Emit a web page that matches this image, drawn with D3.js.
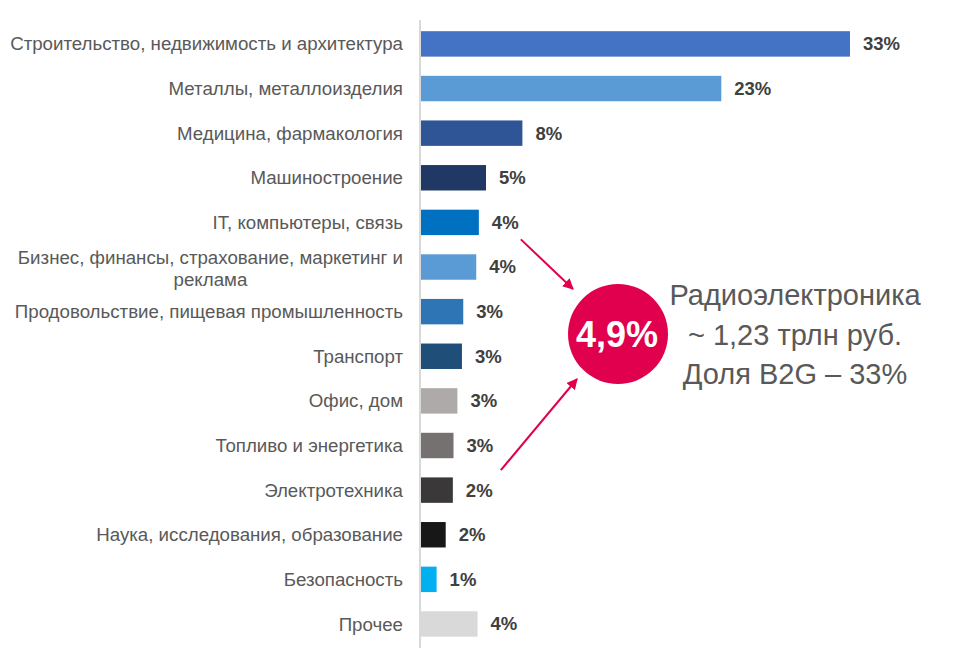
<!DOCTYPE html>
<html>
<head>
<meta charset="utf-8">
<script src="https://cdn.jsdelivr.net/npm/d3@7"></script>
<style>
  html, body { margin: 0; padding: 0; background: #fff; }
  svg { display: block; font-family: "Liberation Sans", Arial, sans-serif; }
</style>
</head>
<body>
<svg id="chart" width="975" height="668"></svg>
<script>
const categories = [
  ["Строительство, недвижимость и архитектура"],
  ["Металлы, металлоизделия"],
  ["Медицина, фармакология"],
  ["Машиностроение"],
  ["IT, компьютеры, связь"],
  ["Бизнес, финансы, страхование, маркетинг и", "реклама"],
  ["Продовольствие, пищевая промышленность"],
  ["Транспорт"],
  ["Офис, дом"],
  ["Топливо и энергетика"],
  ["Электротехника"],
  ["Наука, исследования, образование"],
  ["Безопасность"],
  ["Прочее"]
];
const values = [33, 23.1, 7.8, 5.0, 4.45, 4.25, 3.25, 3.15, 2.8, 2.5, 2.45, 1.9, 1.2, 4.35];
const valueLabels = ["33%", "23%", "8%", "5%", "4%", "4%", "3%", "3%", "3%", "3%", "2%", "2%", "1%", "4%"];
const colors = ["#4472C4", "#5B9BD5", "#2F5597", "#203864", "#0070C0", "#5B9BD5", "#2E75B6",
                "#1F4E79", "#AEAAAA", "#767171", "#3A3838", "#181717", "#00B0F0", "#D9D9D9"];
const calloutValue = "4,9%";
const calloutLines = ["Радиоэлектроника", "~ 1,23 трлн руб.", "Доля B2G – 33%"];

const svg = d3.select("#chart");
const idx = d3.range(categories.length);

const x = d3.scaleLinear().domain([0, 33]).range([421, 850]);
const y = d3.scaleBand().domain(idx).range([21.6, 646.3]).paddingInner(0.43).paddingOuter(0.215);

// axis line
svg.append("line")
  .attr("x1", 420).attr("x2", 420)
  .attr("y1", 20).attr("y2", 648)
  .attr("stroke", "#D9D9D9").attr("stroke-width", 2);

// bars
svg.selectAll("rect.bar").data(idx).join("rect")
  .attr("class", "bar")
  .attr("x", x(0))
  .attr("y", i => y(i))
  .attr("width", i => x(values[i]) - x(0))
  .attr("height", y.bandwidth())
  .attr("fill", i => colors[i]);

// value labels
svg.selectAll("text.val").data(idx).join("text")
  .attr("class", "val")
  .attr("x", i => x(values[i]) + 13)
  .attr("y", i => y(i) + y.bandwidth() / 2)
  .attr("dy", "0.35em")
  .attr("font-size", 18.5)
  .attr("font-weight", "bold")
  .attr("fill", "#404040")
  .text(i => valueLabels[i]);

// category labels
const catG = svg.selectAll("g.cat").data(idx).join("g").attr("class", "cat");
catG.each(function(i) {
  const lines = categories[i];
  const g = d3.select(this);
  const cy = y(i) + y.bandwidth() / 2;
  const lh = 22;
  if (lines.length === 1) {
    g.append("text")
      .attr("x", 403).attr("y", cy).attr("dy", "0.35em")
      .attr("text-anchor", "end")
      .attr("font-size", 18.7).attr("fill", "#595959")
      .text(lines[0]);
  } else {
    const t1 = g.append("text")
      .attr("x", 403).attr("y", cy - lh / 2 + 1).attr("dy", "0.35em")
      .attr("text-anchor", "end")
      .attr("font-size", 18.7).attr("fill", "#595959")
      .text(lines[0]);
    const w = t1.node().getComputedTextLength();
    g.append("text")
      .attr("x", 403 - w / 2).attr("y", cy + lh / 2 + 1).attr("dy", "0.35em")
      .attr("text-anchor", "middle")
      .attr("font-size", 18.7).attr("fill", "#595959")
      .text(lines[1]);
  }
});

// arrows
const red = "#E0004D";
const defs = svg.append("defs");
defs.append("marker")
  .attr("id", "arrow")
  .attr("viewBox", "0 0 10 10")
  .attr("refX", 9).attr("refY", 5)
  .attr("markerWidth", 5.5).attr("markerHeight", 5.5)
  .attr("orient", "auto")
  .attr("markerUnits", "strokeWidth")
  .append("path").attr("d", "M0,0 L10,5 L0,10 z").attr("fill", red);

const ya = y(4) + y.bandwidth() / 2;
const yb = y(10) + y.bandwidth() / 2;
svg.append("line")
  .attr("x1", x(values[4]) + 42).attr("y1", ya + 17)
  .attr("x2", 573).attr("y2", 289)
  .attr("stroke", red).attr("stroke-width", 2)
  .attr("marker-end", "url(#arrow)");
svg.append("line")
  .attr("x1", x(values[10]) + 48).attr("y1", yb - 20)
  .attr("x2", 577).attr("y2", 379)
  .attr("stroke", red).attr("stroke-width", 2)
  .attr("marker-end", "url(#arrow)");

// callout circle
svg.append("circle")
  .attr("cx", 618).attr("cy", 334).attr("r", 50)
  .attr("fill", red);
svg.append("text")
  .attr("x", 617).attr("y", 334).attr("dy", "0.36em")
  .attr("text-anchor", "middle")
  .attr("font-size", 36).attr("font-weight", "bold")
  .attr("fill", "#fff")
  .text(calloutValue);

// callout text
svg.selectAll("text.callout").data(calloutLines).join("text")
  .attr("class", "callout")
  .attr("x", 795)
  .attr("y", (d, i) => 305 + i * 39.5)
  .attr("text-anchor", "middle")
  .attr("font-size", 29)
  .attr("fill", "#595959")
  .text(d => d);
</script>
</body>
</html>
